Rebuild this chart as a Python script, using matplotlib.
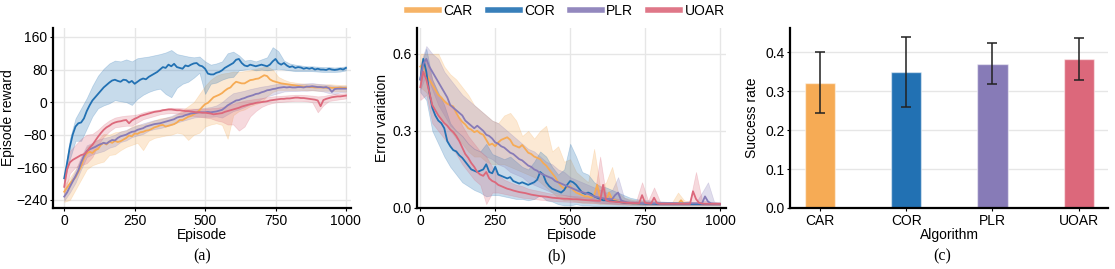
import numpy as np
import matplotlib
matplotlib.use('Agg')
import matplotlib.pyplot as plt

plt.rcParams['font.family'] = ['Liberation Sans', 'DejaVu Sans']

algos = ['CAR', 'COR', 'PLR', 'UOAR']
colors = ['#F6AB55', '#2271B3', '#877BB7', '#DC687B']

ep_line = np.arange(0, 1001, 10)
ep_band = np.arange(0, 1001, 20)

# ---- (a) episode reward, mean every 10 episodes ----
rew_car = [-220, -210, -200, -192, -185, -172, -158, -138, -126, -122, -125, -118, -115, -105, -100, -104, -97, -100, -95, -98,
           -96, -92, -88, -82, -84, -77, -78, -74, -73, -70, -69, -66, -62, -60, -57, -56, -60, -58, -56, -54,
           -50, -44, -44, -40, -36, -34, -30, -26, -20, -12, -5, -2, 5, 12, 15, 18, 22, 28, 33, 36,
           44, 50, 48, 46, 46, 50, 54, 55, 57, 58, 62, 66, 64, 56, 52, 50, 48, 46, 45, 44,
           43, 42, 41, 40, 39, 38, 38, 37, 37, 36, 36, 36, 36, 35, 36, 35, 35, 35, 36, 35, 35]
rew_cor = [-187, -150, -110, -80, -60, -52, -50, -40, -22, -8, 4, 12, 20, 28, 36, 42, 48, 53, 55, 52,
           50, 55, 54, 48, 52, 45, 50, 55, 58, 56, 62, 66, 70, 74, 80, 86, 84, 92, 88, 94,
           86, 84, 82, 90, 88, 92, 95, 96, 90, 88, 82, 70, 68, 68, 72, 74, 78, 84, 88, 92,
           96, 104, 106, 96, 90, 88, 92, 90, 88, 90, 92, 90, 88, 92, 100, 106, 96, 92, 96, 90,
           86, 88, 84, 86, 85, 82, 84, 82, 84, 80, 82, 80, 80, 79, 82, 80, 79, 80, 82, 80, 84]
rew_plr = [-232, -222, -208, -195, -182, -168, -148, -132, -120, -116, -113, -110, -106, -103, -100, -102, -97, -93, -94, -88,
           -84, -82, -80, -76, -73, -72, -68, -66, -64, -60, -58, -56, -54, -53, -52, -50, -48, -46, -44, -42,
           -38, -36, -35, -32, -30, -28, -27, -26, -25, -25, -25, -24, -25, -24, -23, -21, -19, -14, -8, -4,
           0, 4, 5, 8, 10, 13, 15, 17, 20, 21, 24, 26, 29, 30, 32, 33, 35, 36, 37, 36,
           37, 36, 36, 37, 37, 36, 38, 38, 39, 38, 37, 37, 36, 37, 34, 25, 32, 33, 33, 33, 33]
rew_uoar = [-208, -165, -148, -142, -138, -134, -130, -128, -122, -112, -105, -95, -85, -76, -68, -62, -58, -53, -50, -48,
            -47, -45, -44, -52, -45, -41, -38, -34, -32, -30, -28, -26, -24, -23, -22, -20, -19, -18, -18, -19,
            -20, -20, -21, -22, -22, -23, -24, -25, -25, -26, -26, -27, -28, -30, -29, -28, -27, -24, -22, -20,
            -18, -16, -14, -11, -9, -7, -5, -4, -2, -1, 0, 1, 2, 4, 5, 6, 7, 8, 8, 9,
            9, 10, 11, 11, 10, 10, 9, 8, 7, 6, 4, -10, 5, 8, 10, 12, 13, 14, 14, 15, 16]

# ---- (a) band edges every 20 episodes ----
rew_car_hi = [-205, -185, -165, -140, -110, -100, -92, -78, -80, -74, -72, -70, -60, -55, -55, -50, -45, -40, -38, -36,
              -30, -20, -10, 0, 20, 40, 55, 65, 70, 72, 75, 74, 76, 78, 82, 85, 88, 80, 62, 55,
              50, 48, 46, 45, 44, 44, 43, 44, 43, 42, 42]
rew_car_lo = [-245, -240, -215, -190, -165, -155, -150, -146, -130, -128, -118, -110, -105, -100, -118, -95, -88, -85, -82, -80,
              -75, -78, -93, -80, -75, -60, -55, -52, -56, -90, -32, -22, -18, -10, -5, 0, 15, 25, 30, 30,
              30, 30, 30, 29, 29, 28, 28, 28, 27, 27, 26]
rew_cor_hi = [-180, -90, -40, -15, 10, 40, 65, 82, 95, 102, 100, 105, 100, 108, 110, 112, 115, 118, 122, 128,
              118, 115, 112, 110, 112, 100, 92, 95, 100, 120, 124, 115, 102, 104, 100, 105, 110, 135, 125, 102,
              95, 92, 90, 88, 88, 87, 86, 86, 85, 86, 88]
rew_cor_lo = [-195, -140, -95, -95, -65, -35, -15, -8, -3, 5, 2, 0, -7, 8, 18, 25, 30, 33, 20, 12,
              35, 45, 50, 60, 72, 20, 45, 48, 55, 60, 62, 78, 80, 82, 78, 80, 78, 80, 82, 80,
              78, 76, 76, 76, 76, 75, 74, 74, 74, 75, 78]
rew_plr_hi = [-222, -195, -168, -133, -106, -100, -92, -88, -85, -80, -72, -68, -62, -57, -52, -48, -44, -42, -38, -34,
              -28, -25, -20, -17, -15, -14, -12, -8, 0, 12, 22, 25, 28, 32, 35, 38, 40, 43, 45, 46,
              45, 44, 45, 46, 47, 45, 44, 42, 40, 40, 40]
rew_plr_lo = [-242, -222, -198, -165, -135, -128, -124, -120, -112, -108, -98, -94, -86, -82, -78, -70, -66, -64, -60, -56,
              -50, -46, -42, -38, -36, -36, -36, -35, -38, -30, -22, -18, -12, -6, 0, 8, 14, 18, 22, 26,
              27, 27, 28, 28, 29, 28, 26, 22, 20, 24, 25]
rew_uoar_hi = [-190, -120, -105, -90, -80, -78, -68, -55, -45, -38, -35, -33, -32, -30, -25, -22, -20, -18, -16, -14,
               -14, -15, -16, -16, -17, -16, -15, -14, -12, -8, -4, 0, 4, 6, 8, 10, 12, 14, 15, 16,
               17, 18, 18, 17, 16, 14, 15, 18, 20, 21, 22]
rew_uoar_lo = [-225, -175, -160, -155, -150, -135, -105, -85, -72, -62, -60, -58, -58, -50, -42, -38, -34, -30, -28, -27,
               -28, -30, -32, -34, -36, -38, -40, -45, -48, -55, -55, -70, -60, -35, -22, -12, -6, -2, 0, 1,
               2, 3, 3, 2, 0, -25, -8, 3, 5, 7, 9]

# ---- (b) error variation, mean every 10 episodes ----
err_car = [0.55, 0.56, 0.52, 0.50, 0.48, 0.46, 0.44, 0.43, 0.415, 0.405, 0.40, 0.395, 0.37, 0.35, 0.335, 0.325, 0.31, 0.305, 0.295, 0.30,
           0.29, 0.285, 0.265, 0.245, 0.25, 0.24, 0.255, 0.265, 0.27, 0.275, 0.265, 0.245, 0.24, 0.235, 0.245, 0.23, 0.215, 0.21, 0.20, 0.195,
           0.19, 0.175, 0.165, 0.15, 0.135, 0.12, 0.10, 0.085, 0.075, 0.08, 0.085, 0.07, 0.06, 0.055, 0.05, 0.045, 0.045, 0.04, 0.05, 0.09,
           0.04, 0.035, 0.03, 0.06, 0.035, 0.03, 0.025, 0.022, 0.02, 0.02, 0.018, 0.018, 0.017, 0.017, 0.017, 0.016, 0.016, 0.016, 0.016, 0.016,
           0.016, 0.016, 0.016, 0.016, 0.016, 0.016, 0.016, 0.03, 0.016, 0.016, 0.016, 0.015, 0.015, 0.015, 0.015, 0.015, 0.015, 0.015, 0.015, 0.015, 0.015]
err_cor = [0.50, 0.58, 0.53, 0.45, 0.39, 0.36, 0.34, 0.33, 0.31, 0.26, 0.24, 0.225, 0.22, 0.205, 0.195, 0.18, 0.165, 0.15, 0.145, 0.14,
           0.145, 0.15, 0.17, 0.14, 0.135, 0.16, 0.13, 0.125, 0.12, 0.115, 0.12, 0.105, 0.10, 0.095, 0.10, 0.095, 0.09, 0.095, 0.10, 0.11,
           0.14, 0.13, 0.10, 0.085, 0.075, 0.07, 0.065, 0.06, 0.07, 0.09, 0.105, 0.10, 0.09, 0.075, 0.06, 0.055, 0.06, 0.055, 0.045, 0.04,
           0.035, 0.03, 0.03, 0.028, 0.028, 0.026, 0.024, 0.022, 0.02, 0.02, 0.019, 0.018, 0.018, 0.017, 0.017, 0.016, 0.016, 0.016, 0.016, 0.015,
           0.015, 0.015, 0.015, 0.015, 0.015, 0.015, 0.015, 0.015, 0.015, 0.015, 0.015, 0.015, 0.015, 0.015, 0.015, 0.015, 0.015, 0.015, 0.015, 0.015, 0.015]
err_plr = [0.50, 0.56, 0.58, 0.55, 0.53, 0.51, 0.49, 0.47, 0.45, 0.43, 0.40, 0.39, 0.38, 0.37, 0.36, 0.34, 0.33, 0.32, 0.31, 0.32,
           0.31, 0.30, 0.285, 0.28, 0.27, 0.255, 0.25, 0.24, 0.235, 0.225, 0.215, 0.21, 0.20, 0.19, 0.185, 0.175, 0.165, 0.16, 0.15, 0.145,
           0.135, 0.13, 0.125, 0.12, 0.115, 0.105, 0.10, 0.095, 0.09, 0.085, 0.08, 0.075, 0.07, 0.065, 0.062, 0.058, 0.055, 0.05, 0.045, 0.042,
           0.04, 0.038, 0.036, 0.035, 0.034, 0.05, 0.06, 0.03, 0.025, 0.022, 0.02, 0.02, 0.019, 0.019, 0.018, 0.018, 0.018, 0.018, 0.018, 0.018,
           0.018, 0.018, 0.018, 0.018, 0.018, 0.018, 0.018, 0.018, 0.018, 0.018, 0.018, 0.018, 0.018, 0.018, 0.018, 0.045, 0.025, 0.018, 0.017, 0.016, 0.016]
err_uoar = [0.47, 0.53, 0.50, 0.45, 0.40, 0.38, 0.36, 0.345, 0.33, 0.32, 0.305, 0.295, 0.28, 0.26, 0.235, 0.21, 0.195, 0.175, 0.16, 0.14,
            0.13, 0.125, 0.14, 0.115, 0.105, 0.10, 0.09, 0.085, 0.08, 0.075, 0.072, 0.068, 0.065, 0.062, 0.06, 0.058, 0.055, 0.052, 0.05, 0.048,
            0.046, 0.045, 0.044, 0.042, 0.04, 0.039, 0.038, 0.037, 0.036, 0.036, 0.035, 0.034, 0.034, 0.033, 0.032, 0.031, 0.03, 0.03, 0.029, 0.028,
            0.028, 0.09, 0.03, 0.026, 0.025, 0.024, 0.023, 0.022, 0.021, 0.02, 0.02, 0.019, 0.019, 0.018, 0.05, 0.02, 0.018, 0.017, 0.04, 0.018,
            0.016, 0.016, 0.016, 0.016, 0.016, 0.016, 0.016, 0.016, 0.016, 0.016, 0.016, 0.065, 0.035, 0.02, 0.017, 0.016, 0.016, 0.016, 0.016, 0.016, 0.016]

# ---- (b) band edges every 20 episodes ----
err_car_hi = [0.60, 0.60, 0.60, 0.60, 0.55, 0.52, 0.50, 0.47, 0.44, 0.40, 0.38, 0.36, 0.34, 0.33, 0.36, 0.37, 0.34, 0.28, 0.30, 0.27,
              0.30, 0.32, 0.22, 0.24, 0.18, 0.19, 0.14, 0.12, 0.10, 0.23, 0.08, 0.10, 0.16, 0.06, 0.04, 0.035, 0.03, 0.028, 0.025, 0.024,
              0.022, 0.022, 0.022, 0.06, 0.03, 0.022, 0.022, 0.021, 0.021, 0.02, 0.02]
err_car_lo = [0.47, 0.45, 0.40, 0.36, 0.33, 0.30, 0.27, 0.25, 0.22, 0.20, 0.20, 0.18, 0.17, 0.17, 0.17, 0.16, 0.15, 0.14, 0.13, 0.12,
              0.10, 0.08, 0.06, 0.04, 0.03, 0.03, 0.025, 0.02, 0.02, 0.02, 0.015, 0.015, 0.014, 0.013, 0.012, 0.012, 0.011, 0.011, 0.011, 0.011,
              0.011, 0.011, 0.01, 0.01, 0.01, 0.01, 0.01, 0.01, 0.01, 0.01, 0.01]
err_cor_hi = [0.55, 0.62, 0.50, 0.45, 0.40, 0.33, 0.30, 0.28, 0.25, 0.23, 0.22, 0.25, 0.21, 0.20, 0.19, 0.20, 0.18, 0.16, 0.15, 0.18,
              0.22, 0.20, 0.16, 0.13, 0.15, 0.25, 0.20, 0.14, 0.13, 0.10, 0.085, 0.08, 0.07, 0.06, 0.05, 0.04, 0.035, 0.03, 0.03, 0.028,
              0.025, 0.024, 0.023, 0.022, 0.022, 0.022, 0.021, 0.021, 0.021, 0.02, 0.02]
err_cor_lo = [0.45, 0.42, 0.30, 0.25, 0.20, 0.16, 0.13, 0.10, 0.085, 0.07, 0.06, 0.045, 0.05, 0.05, 0.045, 0.04, 0.035, 0.035, 0.03, 0.035,
              0.05, 0.03, 0.025, 0.015, 0.01, 0.01, 0.015, 0.01, 0.01, 0.008, 0.008, 0.008, 0.008, 0.008, 0.008, 0.009, 0.009, 0.009, 0.01, 0.01,
              0.01, 0.01, 0.01, 0.01, 0.01, 0.01, 0.01, 0.01, 0.01, 0.01, 0.01]
err_plr_hi = [0.56, 0.63, 0.60, 0.58, 0.53, 0.50, 0.47, 0.44, 0.42, 0.40, 0.38, 0.36, 0.34, 0.33, 0.31, 0.29, 0.27, 0.25, 0.23, 0.22,
              0.20, 0.18, 0.17, 0.15, 0.14, 0.12, 0.11, 0.10, 0.09, 0.08, 0.07, 0.06, 0.07, 0.12, 0.04, 0.03, 0.028, 0.026, 0.025, 0.024,
              0.023, 0.023, 0.023, 0.023, 0.022, 0.022, 0.022, 0.06, 0.10, 0.025, 0.022]
err_plr_lo = [0.46, 0.52, 0.46, 0.40, 0.36, 0.32, 0.30, 0.28, 0.25, 0.23, 0.22, 0.20, 0.19, 0.17, 0.16, 0.14, 0.13, 0.12, 0.10, 0.09,
              0.08, 0.07, 0.06, 0.055, 0.05, 0.045, 0.04, 0.035, 0.03, 0.025, 0.02, 0.018, 0.017, 0.016, 0.015, 0.014, 0.014, 0.013, 0.013, 0.013,
              0.013, 0.013, 0.013, 0.013, 0.013, 0.013, 0.013, 0.013, 0.012, 0.012, 0.012]
err_uoar_hi = [0.52, 0.58, 0.50, 0.44, 0.42, 0.40, 0.37, 0.32, 0.28, 0.25, 0.22, 0.20, 0.16, 0.13, 0.11, 0.10, 0.09, 0.085, 0.075, 0.07,
               0.065, 0.06, 0.055, 0.052, 0.05, 0.048, 0.046, 0.044, 0.042, 0.04, 0.20, 0.05, 0.04, 0.035, 0.03, 0.028, 0.026, 0.10, 0.028, 0.08,
               0.025, 0.024, 0.023, 0.022, 0.022, 0.03, 0.14, 0.03, 0.025, 0.023, 0.022]
err_uoar_lo = [0.42, 0.44, 0.33, 0.30, 0.27, 0.24, 0.21, 0.17, 0.14, 0.11, 0.09, 0.015, 0.06, 0.06, 0.055, 0.05, 0.045, 0.04, 0.038, 0.035,
               0.032, 0.03, 0.028, 0.026, 0.025, 0.024, 0.023, 0.022, 0.021, 0.02, 0.02, 0.018, 0.017, 0.016, 0.015, 0.014, 0.014, 0.013, 0.013, 0.013,
               0.013, 0.013, 0.013, 0.013, 0.013, 0.013, 0.013, 0.012, 0.012, 0.012, 0.012]

# ---- (c) success rate ----
succ = [0.321, 0.348, 0.370, 0.382]
succ_lo = [0.245, 0.258, 0.318, 0.328]
succ_hi = [0.400, 0.438, 0.423, 0.436]

rew_mean = [rew_car, rew_cor, rew_plr, rew_uoar]
rew_hi = [rew_car_hi, rew_cor_hi, rew_plr_hi, rew_uoar_hi]
rew_lo = [rew_car_lo, rew_cor_lo, rew_plr_lo, rew_uoar_lo]
err_mean = [err_car, err_cor, err_plr, err_uoar]
err_hi = [err_car_hi, err_cor_hi, err_plr_hi, err_uoar_hi]
err_lo = [err_car_lo, err_cor_lo, err_plr_lo, err_uoar_lo]

fig = plt.figure(figsize=(11.15, 2.69), dpi=100)
ax_a = fig.add_axes([0.0475, 0.2268, 0.2673, 0.6691])
ax_b = fig.add_axes([0.374, 0.2268, 0.2771, 0.6691])
ax_c = fig.add_axes([0.7085, 0.2268, 0.2852, 0.6691])


def style(ax, xgrid=True):
    for s in ['top', 'right']:
        ax.spines[s].set_visible(False)
    for s in ['left', 'bottom']:
        ax.spines[s].set_linewidth(1.6)
        ax.spines[s].set_color('black')
    ax.grid(axis='y', color='#e6e6e6', linewidth=1.0)
    if xgrid:
        ax.grid(axis='x', color='#e6e6e6', linewidth=1.0)
    ax.set_axisbelow(True)
    ax.tick_params(labelsize=10, length=2, width=0.8, pad=2)


for i in range(4):
    ax_a.fill_between(ep_band, rew_lo[i], rew_hi[i], color=colors[i], alpha=0.25, linewidth=0.5)
    ax_a.plot(ep_line, rew_mean[i], color=colors[i], linewidth=1.3)
    ax_b.fill_between(ep_band, err_lo[i], err_hi[i], color=colors[i], alpha=0.25, linewidth=0.5)
    ax_b.plot(ep_line, err_mean[i], color=colors[i], linewidth=1.3)

style(ax_a)
ax_a.set_xlim(-40, 1018)
ax_a.set_ylim(-260, 182)
ax_a.set_xticks([0, 250, 500, 750, 1000])
ax_a.set_yticks([-240, -160, -80, 0, 80, 160])
ax_a.set_xlabel('Episode', fontsize=10, labelpad=0)
ax_a.set_ylabel('Episode reward', fontsize=10, labelpad=1)

style(ax_b)
ax_b.set_xlim(-11, 1020)
ax_b.set_ylim(0, 0.70)
ax_b.set_xticks([0, 250, 500, 750, 1000])
ax_b.set_yticks([0.0, 0.3, 0.6])
ax_b.set_xlabel('Episode', fontsize=10, labelpad=0)
ax_b.set_ylabel('Error variation', fontsize=10, labelpad=2)

style(ax_c, xgrid=False)
xpos = np.arange(4)
ax_c.bar(xpos, succ, width=0.35, color=colors, edgecolor=[(1, 1, 1, 0.5)] * 4, linewidth=1.0)
yerr = [np.array(succ) - np.array(succ_lo), np.array(succ_hi) - np.array(succ)]
ax_c.errorbar(xpos, succ, yerr=yerr, fmt='none', ecolor='#222222', elinewidth=1.3, capsize=3.5, capthick=1.3, alpha=0.85)
ax_c.set_xlim(-0.35, 3.34)
ax_c.set_ylim(0, 0.462)
ax_c.set_xticks(xpos)
ax_c.set_xticklabels(algos)
ax_c.set_yticks([0.0, 0.1, 0.2, 0.3, 0.4])
ax_c.set_xlabel('Algorithm', fontsize=10, labelpad=0)
ax_c.set_ylabel('Success rate', fontsize=10, labelpad=4)

leg_handles = [plt.Line2D([0], [0], color=c, linewidth=4, alpha=0.9) for c in colors]
fig.legend(leg_handles, algos, loc='center', bbox_to_anchor=(566 / 1115, 1 - 11 / 269), ncol=4,
           frameon=False, fontsize=10, handlelength=2.3, columnspacing=1.1, handletextpad=0.3)

for lbl, xc in [('(a)', 202), ('(b)', 557), ('(c)', 942)]:
    fig.text(xc / 1115, 1 - 256 / 269, lbl, ha='center', va='center', fontsize=11.5,
             family=['Liberation Serif', 'DejaVu Serif'])

fig.savefig('out.png', dpi=100)
